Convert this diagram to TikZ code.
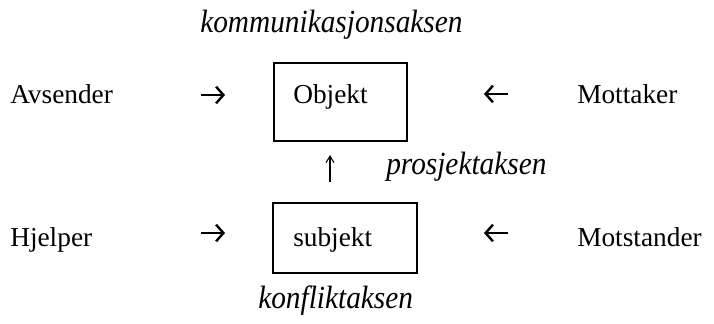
\documentclass[tikz,border=0pt]{standalone}
\usepackage{fontspec}
\setmainfont{Liberation Serif}
\usetikzlibrary{arrows.meta}
\tikzset{
  word/.style={anchor=base west, inner sep=0pt, font=\fontsize{20.5}{24}\selectfont},
  axis/.style={anchor=base west, inner sep=0pt, font=\fontsize{22}{26}\selectfont\itshape},
  actbox/.style={draw, line width=1.5pt, inner sep=0pt},
  boldarrow/.style={line width=1.8pt, -{Straight Barb[length=5.5pt,width=12.5pt,line width=1.8pt]}},
  thinarrow/.style={line width=0.8pt, -{Straight Barb[length=5pt,width=6pt]}}
}
\newcommand{\tallitalic}[1]{\scalebox{1}[1.1]{#1}}
\begin{document}
\begin{tikzpicture}[x=0.75pt,y=-0.75pt]
\useasboundingbox (0,0) rectangle (714,324);

% axis labels
\node[axis] (komm) at (200,33) {\tallitalic{kommunikasjonsaksen}};
\node[axis] (pros) at (386,175) {\tallitalic{prosjektaksen}};
\node[axis] (konf) at (258,308) {\tallitalic{konfliktaksen}};

% top row: sender, object, receiver
\node[word] (avs) at (10,104) {Avsender};
\node[actbox, minimum width=133*0.75pt, minimum height=78*0.75pt] (objbox) at (340.5,102) {};
\node[word] (obj) at (293,104) {Objekt};
\node[word] (mott) at (577,104) {Mottaker};
\coordinate (a1s) at (201,95);   \coordinate (a1e) at (225,95);
\coordinate (a2s) at (508,94);   \coordinate (a2e) at (484,94);
\draw[boldarrow] (a1s) -- (a1e);
\draw[boldarrow] (a2s) -- (a2e);

% vertical project axis
\coordinate (up0) at (330,182);
\coordinate (up1) at (330,155);
\draw[thinarrow] (up0) -- (up1);

% bottom row: helper, subject, opponent
\node[word] (hjel) at (10,247) {Hjelper};
\node[actbox, minimum width=144*0.75pt, minimum height=70*0.75pt] (subbox) at (345,238) {};
\node[word] (sub) at (293,247) {subjekt};
\node[word] (mots) at (577,247) {Motstander};
\coordinate (a4s) at (201,233);  \coordinate (a4e) at (225,233);
\coordinate (a5s) at (508,233);  \coordinate (a5e) at (484,233);
\draw[boldarrow] (a4s) -- (a4e);
\draw[boldarrow] (a5s) -- (a5e);
\end{tikzpicture}
\end{document}
